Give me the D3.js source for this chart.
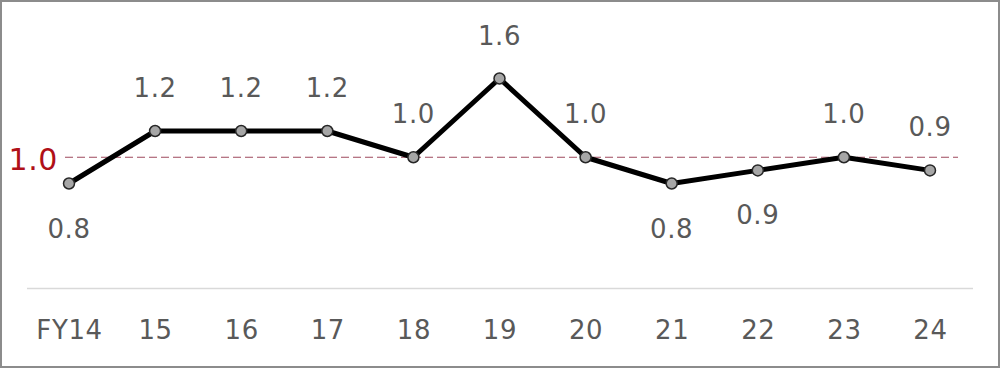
<!DOCTYPE html>
<html>
<head>
<meta charset="utf-8">
<script src="https://cdn.jsdelivr.net/npm/d3@7"></script>
<style>
  html, body { margin: 0; padding: 0; background: #fff; }
  svg { display: block; }
</style>
</head>
<body>
<svg id="chart" width="1000" height="368"></svg>
<script>
// ---- data ----
const categories = ["FY14", "15", "16", "17", "18", "19", "20", "21", "22", "23", "24"];
const values = [0.8, 1.2, 1.2, 1.2, 1.0, 1.6, 1.0, 0.8, 0.9, 1.0, 0.9];
const valueLabels = ["0.8", "1.2", "1.2", "1.2", "1.0", "1.6", "1.0", "0.8", "0.9", "1.0", "0.9"];
const labelSide = ["below", "above", "above", "above", "above", "above", "above", "below", "below", "above", "above"];
const referenceValue = 1.0;
const referenceLabel = "1.0";

// ---- chart ----
const svg = d3.select("#chart");
const W = 1000, H = 368;
const font = "'DejaVu Sans', Verdana, sans-serif";

svg.append("rect")
  .attr("x", 1).attr("y", 1).attr("width", W - 2).attr("height", H - 2)
  .attr("fill", "#fff").attr("stroke", "#8c8c8c").attr("stroke-width", 2);

const x = d3.scalePoint().domain(categories).range([69, 930]);
const y = d3.scaleLinear().domain([0, 2]).range([288.5, 26]);

// baseline axis
const xAxis = svg.append("g")
  .attr("transform", `translate(0,${y(0)})`)
  .call(d3.axisBottom(x).tickSize(0).tickPadding(0));
xAxis.select(".domain").remove();
xAxis.append("line")
  .attr("x1", 27).attr("x2", 973).attr("y1", 0).attr("y2", 0)
  .attr("stroke", "#d9d9d9").attr("stroke-width", 1.5);
xAxis.selectAll(".tick text")
  .attr("y", 50.5).attr("dy", 0)
  .attr("font-family", font).attr("font-size", 26)
  .attr("letter-spacing", 0.6)
  .attr("fill", "#595959");

// reference line
svg.append("line")
  .attr("x1", 65).attr("x2", 958)
  .attr("y1", y(referenceValue)).attr("y2", y(referenceValue))
  .attr("stroke", "#9e4a5e").attr("stroke-width", 1.2)
  .attr("stroke-dasharray", "8,4");
svg.append("text")
  .attr("x", 58).attr("y", y(referenceValue) + 13)
  .attr("text-anchor", "end")
  .attr("font-family", font).attr("font-size", 30)
  .attr("letter-spacing", 0.6)
  .attr("fill", "#b01018")
  .text(referenceLabel);

// line
const data = categories.map((c, i) => ({ c, v: values[i], label: valueLabels[i], side: labelSide[i] }));
svg.append("path")
  .datum(data)
  .attr("fill", "none").attr("stroke", "#000").attr("stroke-width", 5)
  .attr("stroke-linejoin", "round")
  .attr("d", d3.line().x(d => x(d.c)).y(d => y(d.v)));

svg.selectAll("circle.pt").data(data).join("circle")
  .attr("class", "pt")
  .attr("cx", d => x(d.c)).attr("cy", d => y(d.v)).attr("r", 5.5)
  .attr("fill", "#a6a6a6").attr("stroke", "#262626").attr("stroke-width", 1.5);

svg.selectAll("text.vl").data(data).join("text")
  .attr("class", "vl")
  .attr("x", d => x(d.c))
  .attr("y", d => d.side === "above" ? y(d.v) - 34 : y(d.v) + 54)
  .attr("text-anchor", "middle")
  .attr("font-family", font).attr("font-size", 26)
  .attr("letter-spacing", 0.6)
  .attr("fill", "#595959")
  .text(d => d.label);
</script>
</body>
</html>
